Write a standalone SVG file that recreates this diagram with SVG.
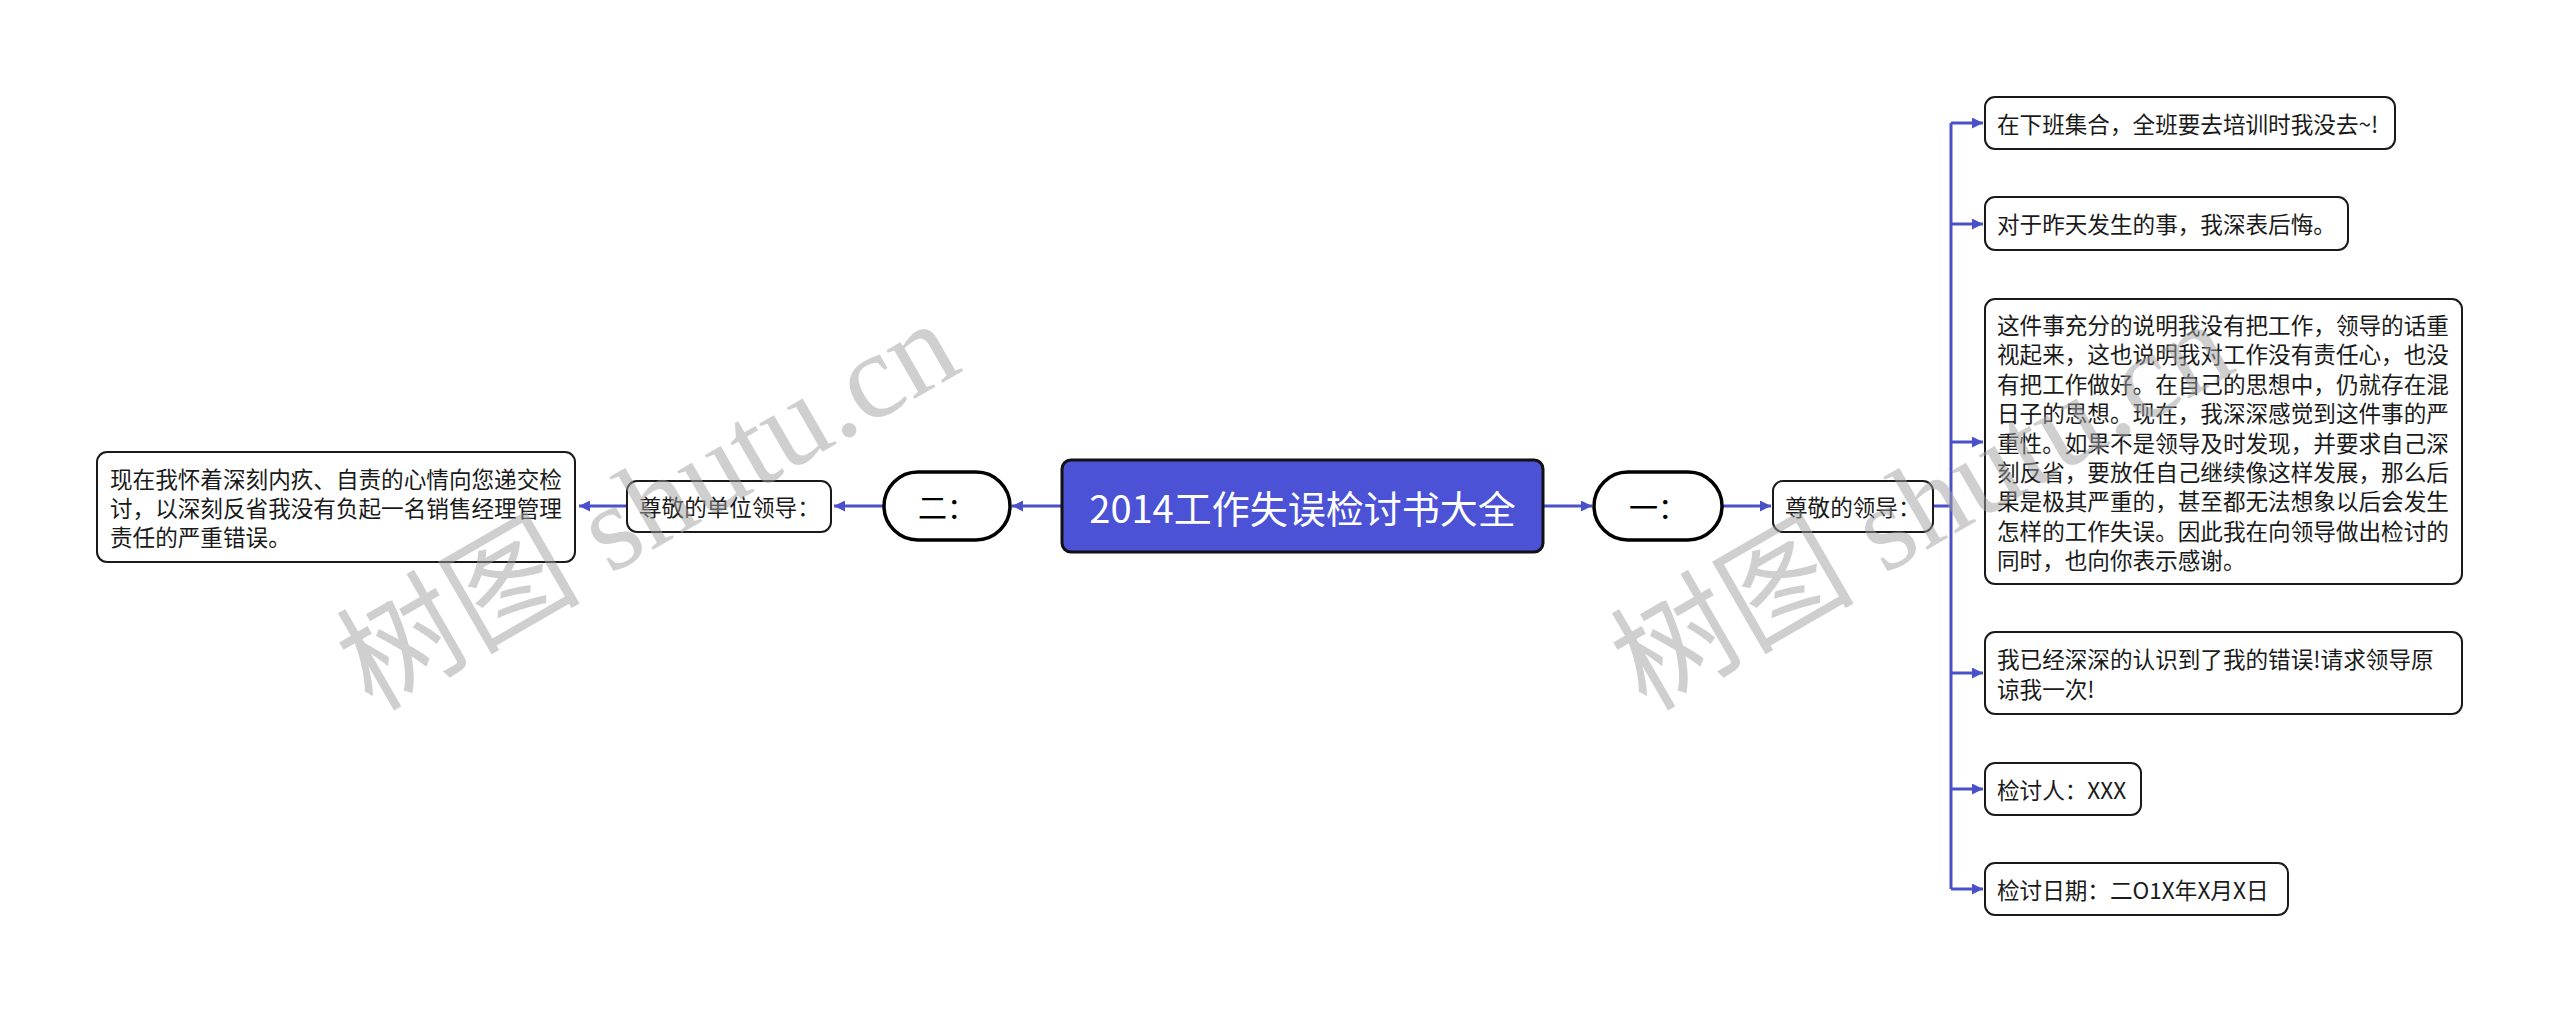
<svg xmlns="http://www.w3.org/2000/svg" width="2560" height="1013" viewBox="0 0 2560 1013">
<style>
.t{font-family:"Noto Sans CJK SC","Microsoft YaHei",sans-serif;font-size:22.6px;fill:#1a1a1a;dominant-baseline:central}
.box{fill:#fff;stroke:#1a1a1a;stroke-width:2}
.pill{fill:#fff;stroke:#000;stroke-width:3.5}
.pt{font-family:"Noto Sans CJK SC",sans-serif;font-size:29px;fill:#000;dominant-baseline:central;text-anchor:middle}
.c{fill:none;stroke:#4A50C8;stroke-width:3}
.wm{font-family:"Liberation Serif","Noto Sans CJK SC",serif;font-size:122px;fill:#a0a0a0;opacity:0.5}
</style>
<defs>
<marker id="ah" viewBox="0 0 10 10" refX="10" refY="5" markerWidth="11" markerHeight="11" markerUnits="userSpaceOnUse" orient="auto">
<path d="M0,0 L10,5 L0,10 z" fill="#4A50C8"/>
</marker>
</defs>
<rect width="2560" height="1013" fill="#fff"/>
<g id="connectors">
<path class="c" d="M1543,506 H1592" marker-end="url(#ah)"/>
<path class="c" d="M1722,506 H1771" marker-end="url(#ah)"/>
<path class="c" d="M1933,506 H1951"/>
<path class="c" d="M1951,123 V889"/>
<path class="c" d="M1951,123 H1983" marker-end="url(#ah)"/>
<path class="c" d="M1951,224 H1983" marker-end="url(#ah)"/>
<path class="c" d="M1951,442 H1983" marker-end="url(#ah)"/>
<path class="c" d="M1951,673 H1983" marker-end="url(#ah)"/>
<path class="c" d="M1951,789 H1983" marker-end="url(#ah)"/>
<path class="c" d="M1951,889 H1983" marker-end="url(#ah)"/>
<path class="c" d="M1062,506 H1012" marker-end="url(#ah)"/>
<path class="c" d="M884,506 H834" marker-end="url(#ah)"/>
<path class="c" d="M627,506 H579" marker-end="url(#ah)"/>
</g>
<g id="root">
<rect x="1062" y="460" width="481" height="92" rx="9" fill="#4B52D6" stroke="#111" stroke-width="3"/>
<text x="1302.5" y="506" font-family="'Noto Sans CJK SC',sans-serif" font-size="38" fill="#fff" text-anchor="middle" dominant-baseline="central">2014工作失误检讨书大全</text>
</g>
<g id="n-yi">
<rect class="pill" x="1594" y="472" width="128" height="68" rx="34"/>
<text class="pt" x="1658" y="506">一：</text>
</g>
<g id="n-zunjing">
<rect class="box" x="1773" y="481" width="160" height="51" rx="10"/>
<text class="t" x="1785" y="506.5">尊敬的领导：</text>
</g>
<g id="r1">
<rect class="box" x="1985" y="97" width="410" height="52" rx="10"/>
<text class="t" x="1997" y="123">在下班集合，全班要去培训时我没去~!</text>
</g>
<g id="r2">
<rect class="box" x="1985" y="197" width="363" height="53" rx="10"/>
<text class="t" x="1997" y="223.5">对于昨天发生的事，我深表后悔。</text>
</g>
<g id="r3">
<rect class="box" x="1985" y="299" width="477" height="285" rx="10"/>
<text class="t">
<tspan x="1997" y="324">这件事充分的说明我没有把工作，领导的话重</tspan>
<tspan x="1997" y="353.4">视起来，这也说明我对工作没有责任心，也没</tspan>
<tspan x="1997" y="382.8">有把工作做好。在自己的思想中，仍就存在混</tspan>
<tspan x="1997" y="412.2">日子的思想。现在，我深深感觉到这件事的严</tspan>
<tspan x="1997" y="441.6">重性。如果不是领导及时发现，并要求自己深</tspan>
<tspan x="1997" y="471">刻反省，要放任自己继续像这样发展，那么后</tspan>
<tspan x="1997" y="500.4">果是极其严重的，甚至都无法想象以后会发生</tspan>
<tspan x="1997" y="529.8">怎样的工作失误。因此我在向领导做出检讨的</tspan>
<tspan x="1997" y="559.2">同时，也向你表示感谢。</tspan>
</text>
</g>
<g id="r4">
<rect class="box" x="1985" y="632" width="477" height="82" rx="10"/>
<text class="t">
<tspan x="1997" y="658.3">我已经深深的认识到了我的错误!请求领导原</tspan>
<tspan x="1997" y="687.7">谅我一次!</tspan>
</text>
</g>
<g id="r5">
<rect class="box" x="1985" y="763" width="156" height="52" rx="10"/>
<text class="t" x="1997" y="789">检讨人：XXX</text>
</g>
<g id="r6">
<rect class="box" x="1985" y="863" width="303" height="52" rx="10"/>
<text class="t" x="1997" y="889">检讨日期：二O1X年X月X日</text>
</g>
<g id="n-er">
<rect class="pill" x="884" y="472" width="126" height="68" rx="34"/>
<text class="pt" x="947" y="506">二：</text>
</g>
<g id="n-danwei">
<rect class="box" x="627" y="481" width="204" height="51" rx="10"/>
<text class="t" x="639" y="506.5">尊敬的单位领导：</text>
</g>
<g id="l1">
<rect class="box" x="97" y="452" width="478" height="110" rx="10"/>
<text class="t">
<tspan x="110" y="477.6">现在我怀着深刻内疚、自责的心情向您递交检</tspan>
<tspan x="110" y="507">讨，以深刻反省我没有负起一名销售经理管理</tspan>
<tspan x="110" y="536.4">责任的严重错误。</tspan>
</text>
</g>
<g id="watermarks">
<text class="wm" x="372" y="712" transform="rotate(-30 372 712)">树图 shutu.cn</text>
<text class="wm" x="1646" y="712" transform="rotate(-30 1646 712)">树图 shutu.cn</text>
</g>
</svg>
